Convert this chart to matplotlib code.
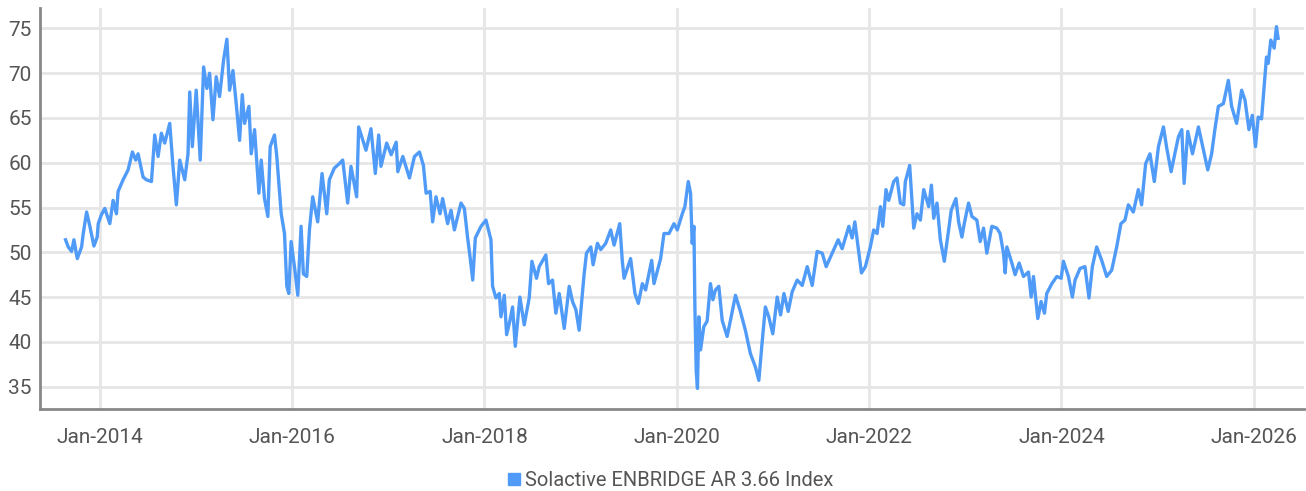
import matplotlib
matplotlib.use("Agg")
import matplotlib.pyplot as plt
import matplotlib.dates as mdates
import pandas as pd

t_years = [
    2013.643, 2013.671, 2013.706, 2013.730, 2013.765, 2013.810, 2013.827, 2013.862, 2013.896, 2013.938,
    2013.972, 2013.983, 2014.017, 2014.052, 2014.104, 2014.138, 2014.173, 2014.190, 2014.242, 2014.294,
    2014.339, 2014.374, 2014.398, 2014.450, 2014.485, 2014.537, 2014.571, 2014.606, 2014.640, 2014.675,
    2014.727, 2014.761, 2014.796, 2014.831, 2014.883, 2014.917, 2014.935, 2014.962, 2015.003, 2015.045,
    2015.080, 2015.114, 2015.142, 2015.177, 2015.211, 2015.246, 2015.288, 2015.322, 2015.350, 2015.385,
    2015.419, 2015.454, 2015.482, 2015.506, 2015.551, 2015.575, 2015.610, 2015.655, 2015.679, 2015.713,
    2015.748, 2015.772, 2015.817, 2015.841, 2015.887, 2015.921, 2015.945, 2015.966, 2015.990, 2016.025,
    2016.060, 2016.094, 2016.118, 2016.153, 2016.181, 2016.215, 2016.267, 2016.312, 2016.361, 2016.388,
    2016.440, 2016.492, 2016.527, 2016.579, 2016.613, 2016.672, 2016.693, 2016.769, 2016.821, 2016.866,
    2016.901, 2016.925, 2016.984, 2017.029, 2017.081, 2017.098, 2017.150, 2017.219, 2017.271, 2017.323,
    2017.364, 2017.392, 2017.434, 2017.460, 2017.495, 2017.537, 2017.564, 2017.616, 2017.651, 2017.686,
    2017.755, 2017.790, 2017.824, 2017.849, 2017.877, 2017.904, 2017.963, 2018.015, 2018.050, 2018.067,
    2018.084, 2018.119, 2018.154, 2018.171, 2018.206, 2018.230, 2018.265, 2018.292, 2018.320, 2018.368,
    2018.413, 2018.465, 2018.493, 2018.541, 2018.569, 2018.638, 2018.666, 2018.707, 2018.742, 2018.777,
    2018.829, 2018.881, 2018.915, 2018.950, 2018.984, 2019.036, 2019.061, 2019.106, 2019.130, 2019.175,
    2019.209, 2019.261, 2019.313, 2019.348, 2019.407, 2019.433, 2019.452, 2019.504, 2019.520, 2019.565,
    2019.600, 2019.642, 2019.676, 2019.739, 2019.763, 2019.832, 2019.867, 2019.919, 2019.971, 2020.006,
    2020.058, 2020.085, 2020.120, 2020.144, 2020.161, 2020.179, 2020.189, 2020.203, 2020.216, 2020.230,
    2020.248, 2020.282, 2020.316, 2020.351, 2020.376, 2020.403, 2020.438, 2020.473, 2020.524, 2020.559,
    2020.611, 2020.662, 2020.714, 2020.766, 2020.818, 2020.854, 2020.887, 2020.922, 2020.957, 2020.999,
    2021.043, 2021.078, 2021.113, 2021.157, 2021.199, 2021.251, 2021.303, 2021.355, 2021.407, 2021.458,
    2021.511, 2021.552, 2021.615, 2021.677, 2021.718, 2021.788, 2021.822, 2021.850, 2021.874, 2021.919,
    2021.960, 2022.012, 2022.047, 2022.082, 2022.117, 2022.141, 2022.175, 2022.203, 2022.255, 2022.289,
    2022.324, 2022.359, 2022.376, 2022.421, 2022.463, 2022.497, 2022.532, 2022.567, 2022.619, 2022.647,
    2022.671, 2022.705, 2022.740, 2022.781, 2022.826, 2022.853, 2022.902, 2022.930, 2022.964, 2022.992,
    2023.034, 2023.069, 2023.120, 2023.155, 2023.190, 2023.224, 2023.276, 2023.328, 2023.362, 2023.397,
    2023.415, 2023.432, 2023.484, 2023.518, 2023.560, 2023.605, 2023.657, 2023.685, 2023.709, 2023.754,
    2023.788, 2023.823, 2023.847, 2023.900, 2023.952, 2023.997, 2024.021, 2024.073, 2024.114, 2024.142,
    2024.194, 2024.245, 2024.287, 2024.322, 2024.367, 2024.419, 2024.471, 2024.523, 2024.575, 2024.619,
    2024.661, 2024.696, 2024.748, 2024.800, 2024.834, 2024.876, 2024.921, 2024.966, 2025.007, 2025.059,
    2025.094, 2025.139, 2025.181, 2025.215, 2025.250, 2025.274, 2025.312, 2025.361, 2025.423, 2025.475,
    2025.520, 2025.560, 2025.595, 2025.630, 2025.682, 2025.734, 2025.768, 2025.820, 2025.872, 2025.907,
    2025.948, 2025.983, 2026.017, 2026.045, 2026.080, 2026.107, 2026.131, 2026.149, 2026.176, 2026.211,
    2026.235, 2026.252,
]
index_level = [
    51.4, 50.6, 50.1, 51.4, 49.3, 50.6, 52.1, 54.5, 52.9, 50.7,
    51.7, 53.2, 54.2, 54.9, 53.2, 55.8, 54.3, 56.8, 58.1, 59.2,
    61.2, 60.3, 61.0, 58.4, 58.1, 57.9, 63.1, 60.7, 63.3, 62.2,
    64.4, 59.6, 55.3, 60.3, 58.1, 61.0, 67.9, 61.8, 68.1, 60.3,
    70.7, 68.3, 70.0, 64.8, 69.6, 67.4, 71.5, 73.8, 68.1, 70.3,
    66.6, 62.5, 67.6, 64.4, 66.3, 61.0, 63.7, 56.6, 60.3, 56.0,
    54.0, 61.8, 63.1, 60.7, 54.3, 52.1, 46.2, 45.4, 51.2, 48.4,
    45.2, 52.9, 47.6, 47.3, 52.5, 56.2, 53.4, 58.8, 54.3, 58.1,
    59.4, 59.9, 60.3, 55.5, 59.6, 56.2, 64.0, 61.4, 63.8, 58.8,
    63.1, 59.6, 62.2, 60.9, 62.3, 59.0, 60.7, 58.3, 60.7, 61.2,
    59.7, 56.6, 56.8, 53.4, 56.2, 54.3, 56.0, 53.2, 54.7, 52.5,
    55.5, 54.9, 51.6, 49.5, 46.9, 51.6, 52.9, 53.6, 52.1, 51.4,
    46.2, 44.9, 45.4, 42.8, 45.2, 40.8, 42.4, 43.9, 39.5, 45.0,
    41.9, 44.9, 49.0, 47.1, 48.4, 49.7, 46.5, 46.9, 43.2, 45.4,
    41.5, 46.2, 44.5, 43.6, 41.3, 47.5, 49.9, 50.6, 48.6, 51.0,
    50.3, 51.0, 52.5, 50.8, 53.2, 49.1, 47.1, 48.8, 49.3, 45.4,
    44.3, 46.5, 45.8, 49.1, 46.5, 49.3, 52.1, 52.1, 53.2, 52.5,
    54.3, 55.1, 57.9, 56.6, 51.0, 52.9, 43.9, 36.7, 34.8, 42.8,
    39.1, 41.7, 42.3, 46.5, 44.7, 45.8, 46.2, 42.4, 40.6, 42.4,
    45.2, 43.4, 41.3, 38.7, 37.2, 35.7, 39.8, 43.9, 42.8, 40.9,
    45.0, 43.0, 45.4, 43.4, 45.6, 46.9, 46.3, 48.4, 46.3, 50.1,
    49.9, 48.4, 49.9, 51.4, 50.4, 52.9, 51.6, 53.4, 51.4, 47.7,
    48.4, 50.6, 52.5, 52.1, 55.1, 52.9, 57.0, 55.8, 57.9, 58.3,
    55.5, 55.3, 57.9, 59.7, 52.7, 54.3, 53.6, 57.0, 55.1, 57.5,
    53.8, 55.5, 51.4, 49.0, 52.5, 54.7, 56.0, 53.4, 51.7, 53.4,
    55.5, 54.0, 53.6, 51.2, 52.7, 49.9, 52.9, 52.7, 52.1, 49.9,
    47.7, 50.6, 48.8, 47.5, 48.8, 47.3, 47.8, 45.0, 47.3, 42.6,
    44.5, 43.2, 45.4, 46.5, 47.3, 47.1, 49.0, 47.3, 45.0, 46.9,
    48.2, 48.4, 44.9, 48.4, 50.6, 49.1, 47.3, 48.0, 50.6, 53.2,
    53.6, 55.3, 54.5, 57.0, 55.3, 59.9, 61.0, 57.9, 61.8, 64.0,
    61.6, 59.0, 61.2, 62.9, 63.7, 57.7, 63.5, 61.0, 64.0, 61.4,
    59.2, 61.0, 63.8, 66.3, 66.6, 69.2, 66.3, 64.4, 68.1, 67.0,
    63.7, 65.3, 61.8, 65.1, 64.9, 68.5, 71.8, 71.1, 73.7, 72.8,
    75.2, 73.9,
]
series_name = "Solactive ENBRIDGE AR 3.66 Index"
tick_years = [2014, 2016, 2018, 2020, 2022, 2024, 2026]


def year_to_date(y):
    yr = int(y)
    return pd.Timestamp(yr, 1, 1) + pd.Timedelta(days=(y - yr) * 365.25)


dates = [year_to_date(y) for y in t_years]

plt.rcParams['font.family'] = ['Roboto', 'DejaVu Sans']

fig = plt.figure(figsize=(13.06, 4.91), dpi=100)
ax = fig.add_axes([0.0306, 0.167, 0.968, 0.817])

line_color = '#4f9bf7'
ax.plot(dates, index_level, color=line_color, linewidth=2.4, label=series_name)

ax.set_ylim(32.5, 77.3)
ax.set_xlim(year_to_date(2013.377), year_to_date(2026.523))
ax.set_yticks([35, 40, 45, 50, 55, 60, 65, 70, 75])
ax.set_xticks([pd.Timestamp(y, 1, 1) for y in tick_years])
ax.xaxis.set_major_formatter(mdates.DateFormatter('%b-%Y'))

ax.grid(True, color='#e6e6e6', linewidth=2)
ax.set_axisbelow(True)
for s in ['top', 'right']:
    ax.spines[s].set_visible(False)
for s in ['left', 'bottom']:
    ax.spines[s].set_color('#888888')
    ax.spines[s].set_linewidth(2)
ax.tick_params(length=0, labelsize=15, labelcolor='#555555')
ax.tick_params(axis='x', pad=14)
ax.tick_params(axis='y', pad=6)

handle = plt.Line2D([], [], color=line_color, marker='s', linestyle='none', markersize=8)
fig.legend([handle], [series_name], loc='center', bbox_to_anchor=(0.512, 0.022),
           frameon=False, fontsize=14.5, labelcolor='#555555', handletextpad=0.0,
           handlelength=1.0)

fig.savefig('out.png', dpi=100)
